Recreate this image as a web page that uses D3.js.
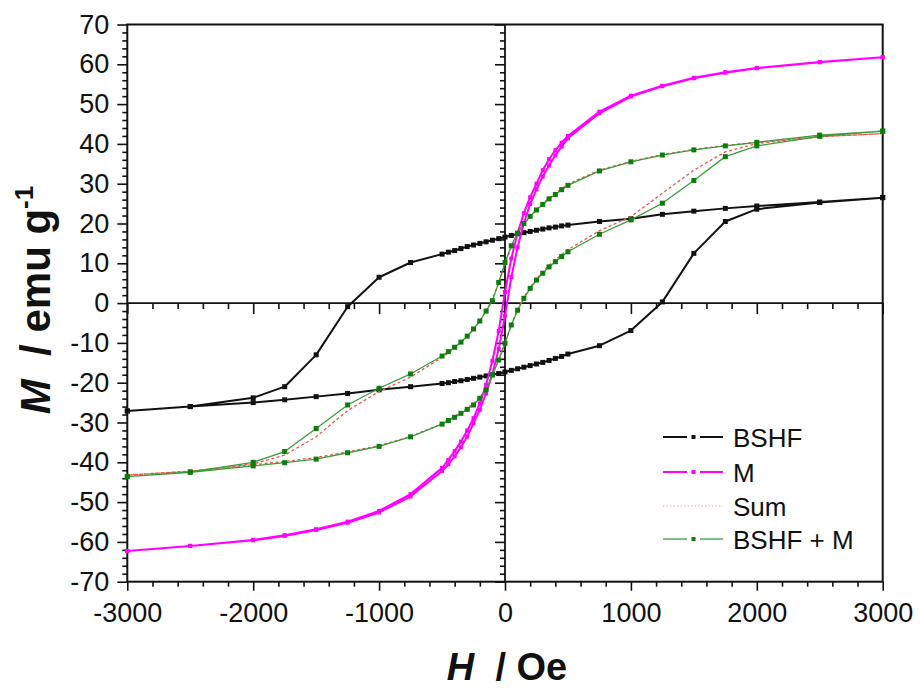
<!DOCTYPE html>
<html>
<head>
<meta charset="utf-8">
<script src="https://cdn.jsdelivr.net/npm/d3@7/dist/d3.min.js"></script>
<style>
  html, body { margin: 0; padding: 0; background: #fff; }
  svg text { font-family: "Liberation Sans", Arial, Helvetica, sans-serif; fill: #111; }
</style>
</head>
<body>
<svg id="chart" width="920" height="690"></svg>
<script>
// Applied field (Oe) for the descending sweep; the ascending sweep uses the reverse order.
const fieldOe = [3000, 2500, 2000, 1750, 1500, 1250, 1000, 750,
  500, 450, 400, 350, 300, 250, 200, 150, 100, 50, 0,
  -50, -100, -150, -200, -250, -300, -350, -400, -450, -500,
  -750, -1000, -1250, -1500, -1750, -2000, -2500, -3000];

// Magnetisation (emu/g), descending sweep (same order as fieldOe)
const bshfDown = [26.5, 25.4, 24.4, 23.8, 23.1, 22.3, 21.2, 20.5,
  19.6, 19.4, 19.1, 18.9, 18.6, 18.3, 18.0, 17.7, 17.4, 17.0, 16.6,
  16.2, 15.8, 15.4, 15.0, 14.6, 14.2, 13.7, 13.2, 12.8, 12.3,
  10.2, 6.5, -0.9, -13.0, -21.0, -23.8, -26.0, -27.1];
const mDown = [61.8, 60.6, 59.1, 58.0, 56.6, 54.6, 52.1, 48.1,
  42.0, 40.3, 38.4, 36.2, 33.4, 30.0, 26.6, 22.6, 17.6, 11.2, 2.8,
  -7.0, -14.5, -20.5, -25.2, -28.9, -32.0, -34.8, -37.2, -39.4, -41.4,
  -48.0, -52.2, -54.9, -56.8, -58.3, -59.5, -61.0, -62.3];
const sumDown = [42.6, 41.8, 40.4, 39.6, 38.6, 37.3, 35.6, 33.4,
  29.9, 28.8, 27.6, 26.4, 25.0, 23.5, 21.8, 19.8, 17.3, 14.0, 9.8,
  5.0, 1.0, -2.0, -4.5, -6.6, -8.4, -9.9, -11.3, -12.5, -13.6,
  -18.6, -22.2, -27.0, -33.6, -38.2, -40.4, -42.3, -43.2];
const mixDown = [43.2, 42.2, 40.4, 39.5, 38.5, 37.2, 35.5, 33.2,
  29.6, 28.5, 27.3, 26.2, 24.8, 23.4, 21.8, 20.0, 17.6, 14.4, 10.2,
  5.2, 0.6, -2.0, -4.5, -6.5, -8.3, -9.8, -11.1, -12.2, -13.3,
  -17.8, -21.4, -25.6, -31.5, -37.3, -40.0, -42.4, -43.6];

// Magnetisation (emu/g), ascending sweep (field from -3000 to 3000)
const bshfUp = [-27.1, -26.0, -25.0, -24.3, -23.5, -22.7, -21.8, -21.0,
  -20.2, -20.0, -19.7, -19.5, -19.2, -18.9, -18.6, -18.3, -18.0, -17.7, -17.3,
  -16.9, -16.5, -16.1, -15.7, -15.3, -14.9, -14.4, -13.9, -13.4, -12.8,
  -10.7, -6.9, 0.3, 12.5, 20.5, 23.6, 25.3, 26.5];
const mUp = [-62.3, -61.0, -59.6, -58.5, -57.0, -55.2, -52.6, -48.6,
  -42.2, -40.5, -38.5, -36.2, -33.5, -30.2, -26.8, -22.7, -17.8, -11.5, -3.2,
  6.5, 14.0, 20.1, 24.9, 28.6, 31.8, 34.6, 37.1, 39.3, 41.4,
  47.7, 51.9, 54.5, 56.5, 57.9, 59.0, 60.5, 61.8];
const sumUp = [-43.2, -42.2, -40.6, -39.8, -38.8, -37.4, -35.8, -33.5,
  -30.3, -29.4, -28.5, -27.5, -26.4, -25.2, -23.6, -21.6, -18.2, -14.3, -10.0,
  -5.5, -1.5, 1.5, 4.0, 6.1, 7.9, 9.5, 10.9, 12.2, 13.4,
  18.2, 21.7, 27.6, 33.4, 38.0, 40.1, 41.8, 42.6];
const mixUp = [-43.6, -42.5, -40.9, -40.1, -39.2, -37.6, -36.0, -33.6,
  -30.4, -29.5, -28.7, -27.7, -26.7, -25.6, -23.9, -21.8, -18.0, -14.3, -10.1,
  -5.5, -1.8, 1.2, 3.7, 5.8, 7.5, 9.1, 10.4, 11.7, 12.9,
  17.3, 20.9, 25.1, 30.8, 36.8, 39.5, 41.9, 43.2];

const seriesNames = ["BSHF", "M", "Sum", "BSHF + M"];
const xTicks = [-3000, -2000, -1000, 0, 1000, 2000, 3000];
const yTicks = [-70, -60, -50, -40, -30, -20, -10, 0, 10, 20, 30, 40, 50, 60, 70];

const svg = d3.select("#chart");
const x = d3.scaleLinear().domain([-3000, 3000]).range([127.3, 882.7]);
const y = d3.scaleLinear().domain([-70, 70]).range([581.7, 24.5]);

const xMinor = d3.range(-3000, 3001, 200).filter(v => !xTicks.includes(v));
const yMinor = d3.range(-70, 71, 2).filter(v => !yTicks.includes(v));
const plainNumber = d => String(d);   // ASCII hyphen for negatives

function styleAxis(g) {
  g.select(".domain").remove();
  g.selectAll(".tick line").attr("stroke", "#111").attr("stroke-width", 1.6);
}
function styleLabels(g) {
  g.selectAll("text").attr("font-size", 27).attr("fill", "#111")
    .style("font-family", '"Liberation Sans", Arial, sans-serif');
}

// Plot frame
svg.append("rect")
  .attr("x", x(-3000)).attr("y", y(70))
  .attr("width", x(3000) - x(-3000)).attr("height", y(-70) - y(70))
  .attr("fill", "none").attr("stroke", "#111").attr("stroke-width", 2);

// Left axis
svg.append("g").attr("transform", `translate(${x(-3000)},0)`)
  .call(d3.axisLeft(y).tickValues(yMinor).tickSize(5).tickFormat(""))
  .call(styleAxis);
svg.append("g").attr("transform", `translate(${x(-3000)},0)`)
  .call(d3.axisLeft(y).tickValues(yTicks).tickSize(10).tickPadding(8).tickFormat(plainNumber))
  .call(styleAxis)
  .call(styleLabels);

// Bottom axis
svg.append("g").attr("transform", `translate(0,${y(-70)})`)
  .call(d3.axisBottom(x).tickValues(xMinor).tickSize(5).tickFormat(""))
  .call(styleAxis);
svg.append("g").attr("transform", `translate(0,${y(-70)})`)
  .call(d3.axisBottom(x).tickValues(xTicks).tickSize(9).tickPadding(12).tickFormat(plainNumber))
  .call(styleAxis)
  .call(styleLabels);

// Zero axes crossing through the origin
svg.append("line").attr("x1", x(-3000)).attr("x2", x(3000)).attr("y1", y(0)).attr("y2", y(0))
  .attr("stroke", "#111").attr("stroke-width", 1.8);
svg.append("line").attr("x1", x(0)).attr("x2", x(0)).attr("y1", y(70)).attr("y2", y(-70))
  .attr("stroke", "#111").attr("stroke-width", 1.8);
svg.append("g").attr("transform", `translate(0,${y(0)})`)
  .call(d3.axisBottom(x).tickValues(xMinor).tickSize(6).tickFormat(""))
  .call(styleAxis);
svg.append("g").attr("transform", `translate(0,${y(0)})`)
  .call(d3.axisBottom(x).tickValues(xTicks.filter(v => v !== 0)).tickSize(11).tickFormat(""))
  .call(styleAxis);
svg.append("g").attr("transform", `translate(${x(0)},0)`)
  .call(d3.axisLeft(y).tickValues(yMinor).tickSize(5).tickFormat(""))
  .call(styleAxis);
svg.append("g").attr("transform", `translate(${x(0)},0)`)
  .call(d3.axisLeft(y).tickValues(yTicks.filter(v => v !== 0)).tickSize(10).tickFormat(""))
  .call(styleAxis);

// Build full loops: descending sweep then ascending sweep
const fieldUp = fieldOe.slice().reverse();
function loop(down, up) {
  return fieldOe.map((h, i) => ({ h, m: down[i] }))
    .concat(fieldUp.map((h, i) => ({ h, m: up[i] })));
}

const series = [
  { name: seriesNames[0], pts: loop(bshfDown, bshfUp), stroke: "#111", width: 2, dash: null, marker: "#111", size: 5 },
  { name: seriesNames[1], pts: loop(mDown, mUp), stroke: "#ff00ff", width: 2, dash: null, marker: "#ff00ff", size: 4 },
  { name: seriesNames[2], pts: loop(sumDown, sumUp), stroke: "#f0504a", width: 1.3, dash: "3,2.5", marker: null, size: 0 },
  { name: seriesNames[3], pts: loop(mixDown, mixUp), stroke: "#3c9c3c", width: 1.3, dash: null, marker: "#0a7d0a", size: 5 }
];

const line = d3.line().x(d => x(d.h)).y(d => y(d.m));
const plot = svg.append("g");

series.forEach(s => {
  plot.append("path").datum(s.pts)
    .attr("d", line).attr("fill", "none")
    .attr("stroke", s.stroke).attr("stroke-width", s.width)
    .attr("stroke-dasharray", s.dash)
    .attr("stroke-linejoin", "round");
  if (s.marker) {
    plot.append("g").selectAll("rect").data(s.pts).join("rect")
      .attr("x", d => x(d.h) - s.size / 2).attr("y", d => y(d.m) - s.size / 2)
      .attr("width", s.size).attr("height", s.size)
      .attr("fill", s.marker);
  }
});

// Legend
const legend = svg.append("g");
const legendRows = [437, 472, 506, 539];
series.forEach((s, i) => {
  const ly = legendRows[i];
  const g = legend.append("g");
  if (s.marker) {
    g.append("line").attr("x1", 663).attr("x2", 687).attr("y1", ly).attr("y2", ly)
      .attr("stroke", s.stroke).attr("stroke-width", s.width);
    g.append("line").attr("x1", 700).attr("x2", 723).attr("y1", ly).attr("y2", ly)
      .attr("stroke", s.stroke).attr("stroke-width", s.width);
    g.append("rect").attr("x", 693.5 - 2).attr("y", ly - 2).attr("width", 4).attr("height", 4)
      .attr("fill", s.marker);
  } else {
    g.append("line").attr("x1", 663).attr("x2", 723).attr("y1", ly).attr("y2", ly)
      .attr("stroke", "#f4a0a0").attr("stroke-width", 1.2).attr("stroke-dasharray", "1.5,2");
  }
  g.append("text").attr("x", 733).attr("y", ly + 9.5)
    .attr("font-size", 26).text(s.name);
});

// Axis titles
const yTitle = svg.append("text")
  .attr("transform", "translate(50,300) rotate(-90)")
  .attr("text-anchor", "middle")
  .attr("font-size", 42).attr("font-weight", "bold");
yTitle.append("tspan").attr("font-style", "italic").text("M");
yTitle.append("tspan").text("\u00a0 / emu g");
yTitle.append("tspan").attr("font-size", 26).attr("dy", -17).text("-1");

const xTitle = svg.append("text")
  .attr("x", 507).attr("y", 680)
  .attr("text-anchor", "middle")
  .attr("font-size", 38).attr("font-weight", "bold");
xTitle.append("tspan").attr("font-style", "italic").text("H");
xTitle.append("tspan").text("\u00a0 / Oe");
</script>
</body>
</html>
